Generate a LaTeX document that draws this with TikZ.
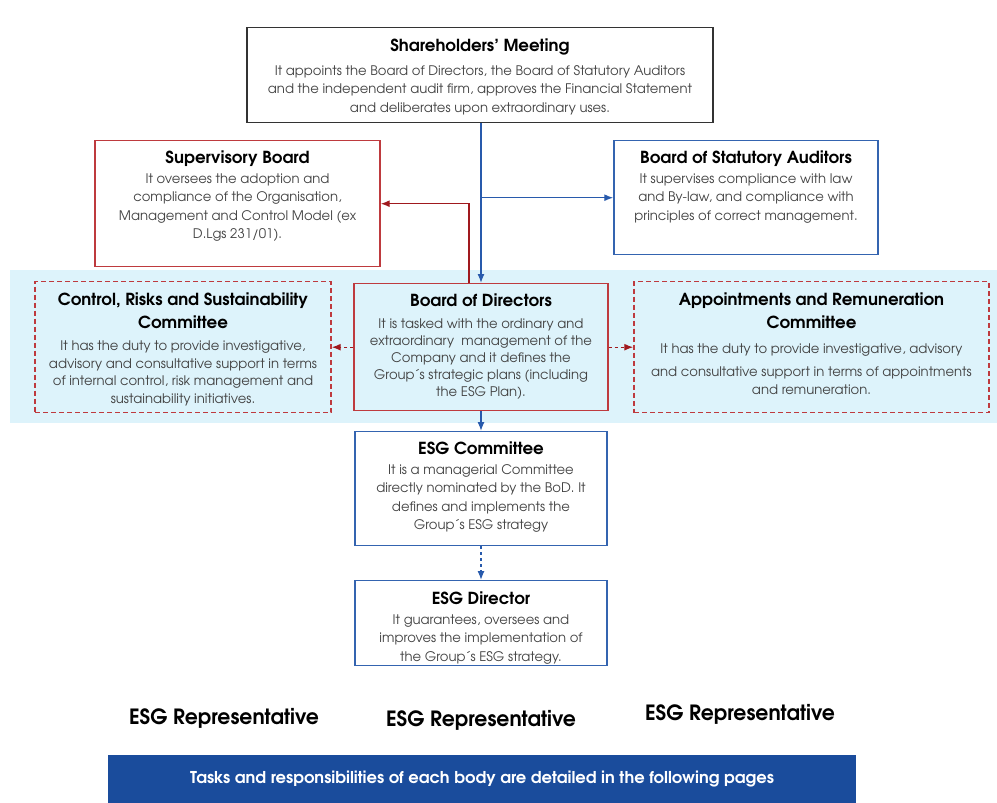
\documentclass[tikz,border=0pt]{standalone}
\usepackage{fontspec}
\setmainfont{texgyreadventor}[Extension=.otf, UprightFont=*-regular, BoldFont=*-bold, ItalicFont=*-italic, BoldItalicFont=*-bolditalic]
\newfontfamily\repfont{texgyreadventor-bold.otf}[FakeStretch=0.97]
\usepackage{xcolor}
\usepackage{tikz}
\usetikzlibrary{arrows.meta, calc, positioning}

\definecolor{boxred}{RGB}{190,58,62}
\definecolor{arrred}{RGB}{160,25,30}
\definecolor{boxblue}{RGB}{52,100,176}
\definecolor{arrblue}{RGB}{40,90,172}
\definecolor{bandblue}{RGB}{221,243,251}
\definecolor{bannerblue}{RGB}{26,76,156}
\definecolor{bodygray}{RGB}{66,66,66}

\newcommand{\bodyfont}{\fontsize{13.2}{18.5}\selectfont\color{bodygray}}
\newcommand{\titlefont}{\fontsize{16.6}{18}\selectfont\bfseries\color{black}}

\begin{document}
\begin{tikzpicture}[x=1pt, y=-1pt, >={Latex[length=9pt, width=7pt]},
    blackbox/.style={draw=black!80, line width=1.4pt, anchor=north},
    redbox/.style={draw=boxred, line width=1.4pt, anchor=north},
    bluebox/.style={draw=boxblue, line width=1.4pt, anchor=north},
    dashbox/.style={draw=boxred, line width=1.4pt, dash pattern=on 5pt off 3pt, anchor=north},
    lbl/.style={anchor=north, align=center, inner sep=0pt, font=\bodyfont},
    redarrow/.style={draw=arrred, line width=1.3pt, ->},
    bluearrow/.style={draw=arrblue, line width=1.3pt, ->},
    rep/.style={font=\repfont\fontsize{21}{24}\selectfont}]
    \useasboundingbox (0,0) rectangle (997,803);

    % 1. Bande des comités
    \fill[bandblue] (10,270) rectangle (997,423);

    % 2. Cadres
    \node[blackbox, minimum width=466, minimum height=95] (sh) at (480,27) {};
    \node[redbox, minimum width=285, minimum height=126] (sup) at (237.5,140) {};
    \node[bluebox, minimum width=264, minimum height=114] (aud) at (746,140) {};
    \node[dashbox, minimum width=296, minimum height=131] (crc) at (183,281) {};
    \node[redbox, minimum width=254, minimum height=127] (bod) at (481,283) {};
    \node[dashbox, minimum width=355, minimum height=131] (arc) at (811.5,281) {};
    \node[bluebox, minimum width=252, minimum height=114] (esgc) at (481,431) {};
    \node[bluebox, minimum width=252, minimum height=85] (esgd) at (481,580) {};

    % 3. Textes
    \node[lbl] (sh-t) at ($(sh.north)+(0,12)$) {{\titlefont Shareholders’ Meeting}\\[5pt]
        It appoints the Board of Directors, the Board of Statutory Auditors\\
        and the independent audit firm, approves the Financial Statement\\
        and deliberates upon extraordinary uses.};
    \node[lbl] (sup-t) at ($(sup.north)+(0,11)$) {{\titlefont Supervisory Board}\\[1pt]
        It oversees the adoption and\\
        compliance of the Organisation,\\
        Management and Control Model (ex\\
        D.Lgs 231/01).};
    \node[lbl] (aud-t) at ($(aud.north)+(0,11)$) {{\titlefont Board of Statutory Auditors}\\[1pt]
        It supervises compliance with law\\
        and By-law, and compliance with\\
        principles of correct management.};
    \node[lbl] (crc-t) at ($(crc.north)+(0,12)$) {{\titlefont Control, Risks and Sustainability}\\[4pt]
        {\titlefont Committee}\\[4pt]
        It has the duty to provide investigative,\\[-1pt]
        advisory and consultative support in terms\\[-1pt]
        of internal control, risk management and\\[-1pt]
        sustainability initiatives.};
    \node[lbl] (bod-t) at ($(bod.north)+(0,11)$) {{\titlefont Board of Directors}\\[3pt]
        It is tasked with the ordinary and\\[-1.5pt]
        extraordinary\ \ management of the\\[-1.5pt]
        Company and it defines the\\[-1.5pt]
        Group´s strategic plans (including\\[-1.5pt]
        the ESG Plan).};
    \node[lbl] (arc-t) at ($(arc.north)+(0,12)$) {{\titlefont Appointments and Remuneration}\\[4pt]
        {\titlefont Committee}\\[7pt]
        It has the duty to provide investigative, advisory\\[4pt]
        and consultative support in terms of appointments\\
        and remuneration.};
    \node[lbl] (esgc-t) at ($(esgc.north)+(0,11)$) {{\titlefont ESG Committee}\\[1pt]
        It is a managerial Committee\\
        directly nominated by the BoD. It\\
        defines and implements the\\
        Group´s ESG strategy};
    \node[lbl] (esgd-t) at ($(esgd.north)+(0,12)$) {{\titlefont ESG Director}\\[1pt]
        It guarantees, oversees and\\
        improves the implementation of\\
        the Group´s ESG strategy.};

    \node[rep] (rep1) at (224,718) {ESG Representative};
    \node[rep] (rep2) at (481,720) {ESG Representative};
    \node[rep] (rep3) at (740,714) {ESG Representative};

    \node[fill=bannerblue, minimum width=748, minimum height=48, text=white,
        font=\bfseries\fontsize{16.3}{18}\selectfont] (note) at (482,779)
        {Tasks and responsibilities of each body are detailed in the following pages};

    % 4. Flèches
    \draw[bluearrow] (bod.north |- sh.south) -- (bod.north);
    \draw[bluearrow] (bod.north |- aud.west) -- (aud.west);
    \draw[redarrow] ([xshift=-12pt]bod.north) |- (sup.east);
    \draw[redarrow, dashed] (bod.west) -- (crc.east);
    \draw[redarrow, dashed] (bod.east) -- (arc.west);
    \draw[bluearrow] (bod.south) -- (esgc.north);
    \draw[bluearrow, dashed] (esgc.south) -- (esgd.north);
\end{tikzpicture}
\end{document}
